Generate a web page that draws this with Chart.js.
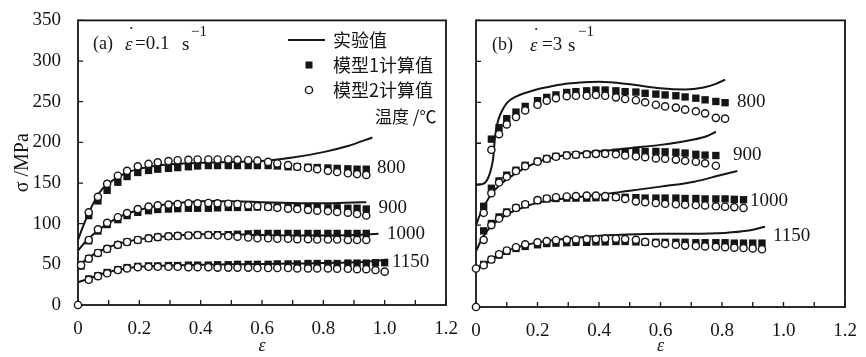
<!DOCTYPE html>
<html>
<head>
<meta charset="utf-8">
<title>模型计算值与实验值对比</title>
<script src="https://cdn.jsdelivr.net/npm/chart.js"></script>
<style>
  body { margin: 0; background: #fff; }
  #wrap { position: relative; width: 866px; height: 357px; overflow: hidden; background: #fff; }
  canvas { position: absolute; top: 0; }
  #panelA { left: 0; }
  #panelB { left: 450px; }
</style>
</head>
<body>
<div id="wrap">
  <canvas id="panelA" width="470" height="357"></canvas>
  <canvas id="panelB" width="416" height="357"></canvas>
</div>
<script>
const ink = '#151515';
const serif = "'Liberation Serif'";
const cjk = "'Noto Sans CJK SC'";

// 坐标刻度
const xTicks = [0, 0.2, 0.4, 0.6, 0.8, 1.0, 1.2];
const yTicks = [0, 50, 100, 150, 200, 250, 300, 350];

// (a) 0.1 s-1 : 模型点的应变位置
const strainA = [0.01, 0.035, 0.065, 0.095, 0.13, 0.16, 0.195, 0.23, 0.26, 0.295, 0.325, 0.36, 0.39, 0.425, 0.455, 0.49,
                 0.52, 0.555, 0.585, 0.62, 0.65, 0.685, 0.715, 0.75, 0.78, 0.815, 0.845, 0.88, 0.91, 0.94, 0.97, 1.00];

// 实验值 (a)
const expStrainA800 = [0, 0.02, 0.05, 0.08, 0.12, 0.16, 0.2, 0.25, 0.3, 0.4, 0.5, 0.6, 0.7, 0.8, 0.88, 0.96];
const expA800 = [80, 100, 125, 143, 155, 163, 167.5, 171, 173, 175, 176, 177, 181.5, 188, 195.5, 206];
const expStrainA900 = [0, 0.02, 0.05, 0.1, 0.15, 0.2, 0.25, 0.3, 0.35, 0.43, 0.5, 0.6, 0.7, 0.8, 0.9, 0.94];
const expA900 = [67, 76, 87, 101, 111, 117, 121.5, 124.5, 126.5, 128, 127.5, 126.5, 125.5, 125, 126, 126.5];
const expStrainA1000 = [0, 0.02, 0.05, 0.1, 0.15, 0.2, 0.3, 0.4, 0.5, 0.6, 0.7, 0.8, 0.9, 0.98];
const expA1000 = [47, 54, 62, 71, 77, 81, 85, 87, 87, 86, 85.5, 85.5, 86, 87.5];
const expStrainA1150 = [0, 0.02, 0.05, 0.1, 0.15, 0.2, 0.3, 0.4, 0.5, 0.6, 0.7, 0.8, 0.9, 0.95, 1.01];
const expA1150 = [28, 30.5, 34.5, 40.5, 44.5, 47, 48.5, 49.5, 50, 50.5, 51, 51.5, 52.5, 53.5, 56];

// 模型1 (a)
const m1A800 = [null, 110, 128, 141, 151, 158, 163, 165.5, 167, 168, 169, 170, 171, 171.5, 171.5, 171.5,
                171.5, 171.5, 171.5, 171.5, 171, 170, 170, 169.5, 169, 168.5, 168, 167.5, 167, 167];
const m1A900 = [null, 79, 91, 99, 105, 110, 114, 116, 117.5, 118, 118.5, 119, 119, 119, 119.5, 120,
                120, 120, 120.5, 120.5, 120.5, 120.5, 120, 120, 120, 119.5, 119.5, 119, 119, 118];
const m1A1000 = [48, 57, 64, 69, 74, 77.5, 80, 82, 83.5, 84.5, 85, 85.5, 86, 86, 86.5, 86.5,
                 87, 87.5, 88, 88, 88, 88, 88, 88, 88, 88, 88, 88, 88, 88];
const m1A1150 = [null, 32, 36, 40, 43.5, 46, 47.5, 48, 48, 48.5, 48.5, 49, 49, 49, 49.5, 49.5,
                 50, 50, 50, 50, 50.5, 50.5, 50.5, 51, 51, 51, 51, 51.5, 51.5, 51.5, 52, 52];

// 模型2 (a)
const m2A800 = [null, 114, 133, 149, 159, 165, 170.5, 173.5, 175.5, 177, 178, 178.5, 179, 179, 179, 179,
                178.5, 178, 177.5, 176, 174, 172, 170, 168.5, 167, 165, 163.5, 162, 161, 160];
const m2A900 = [null, 80, 93, 101, 108, 113, 118, 121, 122.5, 123.5, 124, 125, 125, 125.5, 125, 124.5,
                124, 122.5, 121.5, 120.5, 119.5, 118.5, 118, 117, 116, 115.5, 114.5, 113.5, 112, 110];
const m2A1000 = [49, 57, 64, 69, 74, 77.5, 80, 82, 83.5, 84.5, 85, 85.5, 86, 86, 85.5, 85,
                 84, 83, 82, 82, 81.5, 81.5, 81, 81, 80.5, 80.5, 80.5, 80, 80, 80];
const m2A1150 = [null, 31, 35.5, 39, 43, 45, 46.5, 47, 47, 47, 47, 46.5, 46.5, 46.5, 46, 46,
                 46, 46, 45.5, 45.5, 45.5, 45.5, 45, 45, 45, 45, 44.5, 44.5, 44, 44, 43, 41];

// (b) 3 s-1
const strainB = [0, 0.025, 0.05, 0.075, 0.10, 0.13, 0.16, 0.20, 0.23, 0.26, 0.295, 0.325, 0.36, 0.39, 0.42, 0.455,
                 0.485, 0.52, 0.55, 0.585, 0.615, 0.65, 0.68, 0.715, 0.745, 0.78, 0.81, 0.84, 0.87, 0.90, 0.93];

const expStrainB800 = [0, 0.02, 0.03, 0.04, 0.05, 0.056, 0.062, 0.07, 0.08, 0.1, 0.13, 0.165, 0.2, 0.25, 0.3, 0.4,
                       0.5, 0.6, 0.68, 0.74, 0.78, 0.81];
const expB800 = [149, 150, 152, 158, 170, 182, 208, 225, 236, 249, 257, 262, 266, 270, 273, 275,
                 272, 267, 265.5, 268, 272.5, 277.5];
const expStrainB900 = [0, 0.01, 0.025, 0.05, 0.08, 0.12, 0.16, 0.2, 0.25, 0.3, 0.4, 0.5, 0.6, 0.7, 0.75, 0.78];
const expB900 = [100, 110, 122, 138, 150, 161, 170, 177, 182.5, 186, 190, 194, 198, 204, 208.5, 214];
const expStrainB1000 = [0, 0.02, 0.05, 0.08, 0.11, 0.15, 0.2, 0.25, 0.3, 0.4, 0.5, 0.6, 0.71, 0.8, 0.85];
const expB1000 = [68, 84, 99, 108, 115, 121, 127.5, 130.5, 133, 137, 142, 147, 153, 161.5, 166];
const expStrainB1150 = [0, 0.025, 0.05, 0.075, 0.1, 0.14, 0.17, 0.23, 0.31, 0.38, 0.49, 0.6, 0.7, 0.81, 0.88, 0.94];
const expB1150 = [47, 51.5, 57.5, 63.5, 68.5, 73.5, 76.5, 80.5, 84, 86.5, 88.5, 89.5, 89.5, 90.5, 93, 98];

const m1B800 = [null, null, 205, 219, 230, 238, 245, 252, 256, 259, 262, 263, 264, 265, 265, 264,
                263, 262.5, 261, 260, 259, 258, 256.5, 255, 253, 251, 249.5];
const m1B900 = [null, 123, 145, 154, 161, 167, 173, 178, 181, 184, 185.5, 186, 186.5, 187.5, 188, 189,
                190, 190, 190, 190, 189.5, 189, 188, 186.5, 185.5, 185];
const m1B1000 = [null, 93, 102, 110, 116, 121, 125, 130, 132, 132.5, 133, 133, 133, 133.5, 133.5, 134,
                 134, 133.5, 133, 133, 133, 133, 132.5, 132.5, 132, 132, 132, 131.5, 131];
const m1B1150 = [null, 52, 58, 63.5, 68, 71.5, 74, 76, 77.5, 78, 78.5, 79, 79, 79.5, 79.5, 80,
                 80, 79.5, 79, 79, 79, 79, 79, 78.5, 78.5, 78.5, 78.5, 78, 78, 78, 78];

const m2B800 = [null, null, 192, 211, 223, 232, 240, 247, 252, 255, 257.5, 258, 258, 259, 258, 256,
                254, 252.5, 250, 247, 245, 243.5, 241, 239, 236.5, 231, 230];
const m2B900 = [null, 115, 139, 152, 159, 166, 172, 177.5, 181, 183.5, 185, 186, 186.5, 187, 187, 186.5,
                185, 184, 183, 181.5, 181, 180, 178.5, 177.5, 175.5, 172.5];
const m2B1000 = [null, 82, 100, 108, 115, 121, 125.5, 130.5, 132.5, 134, 135, 135.5, 136, 136, 135.5, 134,
                 132, 129, 128, 127, 126, 125.5, 125, 124.5, 124, 123, 122.5, 122, 121];
const m2B1150 = [47, 51, 58, 64.5, 69, 73, 76.5, 79, 80.5, 81.5, 82, 82.5, 83, 83, 83.5, 83.5,
                 83, 82, 79.5, 78, 77, 76, 75, 74.5, 74, 73.5, 73, 72.5, 72, 71.5, 70.5];

// 原点处的空心圆
const originStrain = [0];
const originStress = [0];

function pts(strain, stress) {
  return stress.map((s, i) => ({ x: strain[i], y: s }));
}

function expSet(strain, stress) {
  return { data: pts(strain, stress), showLine: true, borderColor: ink, borderWidth: 2,
           pointRadius: 0, cubicInterpolationMode: 'monotone', fill: false, order: 1 };
}
function m1Set(strain, stress) {
  return { data: pts(strain, stress), showLine: false, pointStyle: 'rect', pointRadius: 5.2,
           backgroundColor: ink, borderColor: ink, borderWidth: 0, order: 2, clip: false };
}
function m2Set(strain, stress) {
  return { data: pts(strain, stress), showLine: false, pointStyle: 'circle', pointRadius: 3.6,
           backgroundColor: '#fff', borderColor: ink, borderWidth: 1.4, order: 0, clip: false };
}

function makeDecor(cfg) {
  return {
    id: 'decor',
    beforeDatasetsDraw(chart) {
      const { ctx, chartArea: a, scales: { x, y } } = chart;
      ctx.save();
      ctx.strokeStyle = ink;
      ctx.lineWidth = 1.8;
      ctx.strokeRect(a.left, a.top, a.right - a.left, a.bottom - a.top);
      ctx.lineWidth = 1.3;
      ctx.beginPath();
      x.ticks.forEach(t => {
        const px = x.getPixelForValue(t.value);
        ctx.moveTo(px, a.bottom);
        ctx.lineTo(px, a.bottom - 5);
      });
      y.ticks.forEach(t => {
        const py = y.getPixelForValue(t.value);
        ctx.moveTo(a.left, py);
        ctx.lineTo(a.left + 5, py);
      });
      ctx.stroke();
      ctx.restore();
    },
    afterDatasetsDraw(chart) {
      const { ctx, scales: { x, y } } = chart;
      ctx.save();
      ctx.fillStyle = ink;
      ctx.textBaseline = 'middle';
      ctx.textAlign = 'left';

      // 温度标注
      ctx.font = '19px ' + serif;
      cfg.temps.forEach(t => ctx.fillText(t.text, x.getPixelForValue(t.x), y.getPixelForValue(t.y)));

      // 分图标题
      cfg.title.forEach(p => {
        ctx.font = (p.italic ? 'italic ' : '') + p.size + 'px ' + serif;
        ctx.fillText(p.text, p.px, p.py);
      });

      // 图例
      if (cfg.legend) {
        ctx.strokeStyle = ink;
        ctx.lineWidth = 2;
        ctx.beginPath();
        ctx.moveTo(288, 40);
        ctx.lineTo(325, 40);
        ctx.stroke();
        ctx.fillRect(305.5, 61.5, 7, 7);
        ctx.fillStyle = '#fff';
        ctx.lineWidth = 1.4;
        ctx.beginPath();
        ctx.arc(309, 90, 3.6, 0, Math.PI * 2);
        ctx.fill();
        ctx.stroke();
        ctx.fillStyle = ink;
        ctx.font = '18px ' + cjk;
        ctx.fillText('实验值', 333, 40);
        ctx.fillText('模型1计算值', 333, 65);
        ctx.fillText('模型2计算值', 333, 90);
        ctx.font = '17px ' + cjk;
        ctx.fillText('温度 /℃', 375, 117);
      }
      ctx.restore();
    }
  };
}

function xTickLabel(v) {
  const k = Math.round(v * 10);
  if (k % 2 !== 0) return '';
  const hit = xTicks.find(t => Math.abs(t - v) < 1e-6);
  if (hit === undefined) return '';
  return hit === 0 ? '0' : hit.toFixed(1);
}

function makeChart(id, datasets, opt) {
  new Chart(document.getElementById(id), {
    type: 'scatter',
    data: { datasets: datasets },
    options: {
      responsive: false,
      animation: false,
      events: [],
      layout: { padding: opt.padding },
      plugins: { legend: { display: false }, tooltip: { enabled: false } },
      scales: {
        x: {
          type: 'linear', min: 0, max: 1.2,
          grid: { display: false }, border: { display: false },
          ticks: { stepSize: 0.1, autoSkip: false, maxRotation: 0, padding: 5, color: ink,
                   font: { family: serif, size: 19 }, callback: xTickLabel },
          title: { display: true, text: 'ε', color: ink, font: { family: serif, size: 18, style: 'italic' },
                   padding: { top: opt.xTitlePad, bottom: 0 } },
          afterFit: s => { s.height = opt.xHeight; }
        },
        y: {
          type: 'linear', min: 0, max: 350,
          grid: { display: false }, border: { display: false },
          ticks: { stepSize: 50, padding: 9, color: ink, font: { family: serif, size: 19 },
                   callback: v => opt.yLabels && yTicks.includes(v) ? String(v) : '' },
          title: { display: opt.yLabels, text: 'σ /MPa', color: ink, font: { family: serif, size: 20 },
                   padding: { top: 11, bottom: 0 } },
          afterFit: s => { s.width = opt.yWidth; }
        }
      }
    },
    plugins: [makeDecor(opt.decor)]
  });
}

function draw() {
  makeChart('panelA', [
    m2Set(strainA, m2A800), m2Set(strainA, m2A900), m2Set(strainA, m2A1000), m2Set(strainA, m2A1150),
    m2Set(originStrain, originStress),
    expSet(expStrainA800, expA800), expSet(expStrainA900, expA900),
    expSet(expStrainA1000, expA1000), expSet(expStrainA1150, expA1150),
    m1Set(strainA, m1A800), m1Set(strainA, m1A900), m1Set(strainA, m1A1000), m1Set(strainA, m1A1150)
  ], {
    padding: { left: 0, top: 16, right: 24, bottom: 0 },
    yWidth: 78, xHeight: 52, xTitlePad: 10, yLabels: true,
    decor: {
      legend: true,
      temps: [
        { text: '800', x: 0.975, y: 169 }, { text: '900', x: 0.98, y: 119 },
        { text: '1000', x: 1.008, y: 87 }, { text: '1150', x: 1.024, y: 52.5 }
      ],
      title: [
        { text: '(a)', px: 93, py: 44, size: 18 },
        { text: 'ε', px: 125, py: 45, size: 19, italic: true },
        { text: '˙', px: 128, py: 35, size: 19 },
        { text: '=0.1', px: 135, py: 44, size: 19 },
        { text: 's', px: 182, py: 45, size: 19 },
        { text: '−1', px: 191, py: 32, size: 15 }
      ]
    }
  });

  makeChart('panelB', [
    m2Set(strainB, m2B800), m2Set(strainB, m2B900), m2Set(strainB, m2B1000), m2Set(strainB, m2B1150),
    m2Set(originStrain, originStress),
    expSet(expStrainB800, expB800), expSet(expStrainB900, expB900),
    expSet(expStrainB1000, expB1000), expSet(expStrainB1150, expB1150),
    m1Set(strainB, m1B800), m1Set(strainB, m1B900), m1Set(strainB, m1B1000), m1Set(strainB, m1B1150)
  ], {
    padding: { left: 0, top: 18, right: 21, bottom: 0 },
    yWidth: 26, xHeight: 50, xTitlePad: 6, yLabels: false,
    decor: {
      legend: false,
      temps: [
        { text: '800', x: 0.849, y: 250 }, { text: '900', x: 0.836, y: 186 },
        { text: '1000', x: 0.891, y: 130 }, { text: '1150', x: 0.966, y: 87 }
      ],
      title: [
        { text: '(b)', px: 42, py: 45, size: 18 },
        { text: 'ε', px: 80, py: 46, size: 19, italic: true },
        { text: '˙', px: 83, py: 36, size: 19 },
        { text: '=3', px: 92, py: 45, size: 19 },
        { text: 's', px: 118, py: 46, size: 19 },
        { text: '−1', px: 128, py: 32, size: 15 }
      ]
    }
  });
}

Promise.all([
  document.fonts.load("19px 'Liberation Serif'"),
  document.fonts.load("italic 19px 'Liberation Serif'"),
  document.fonts.load("18px 'Noto Sans CJK SC'", '实验值模型计算温度')
]).then(draw, draw);
</script>
</body>
</html>
